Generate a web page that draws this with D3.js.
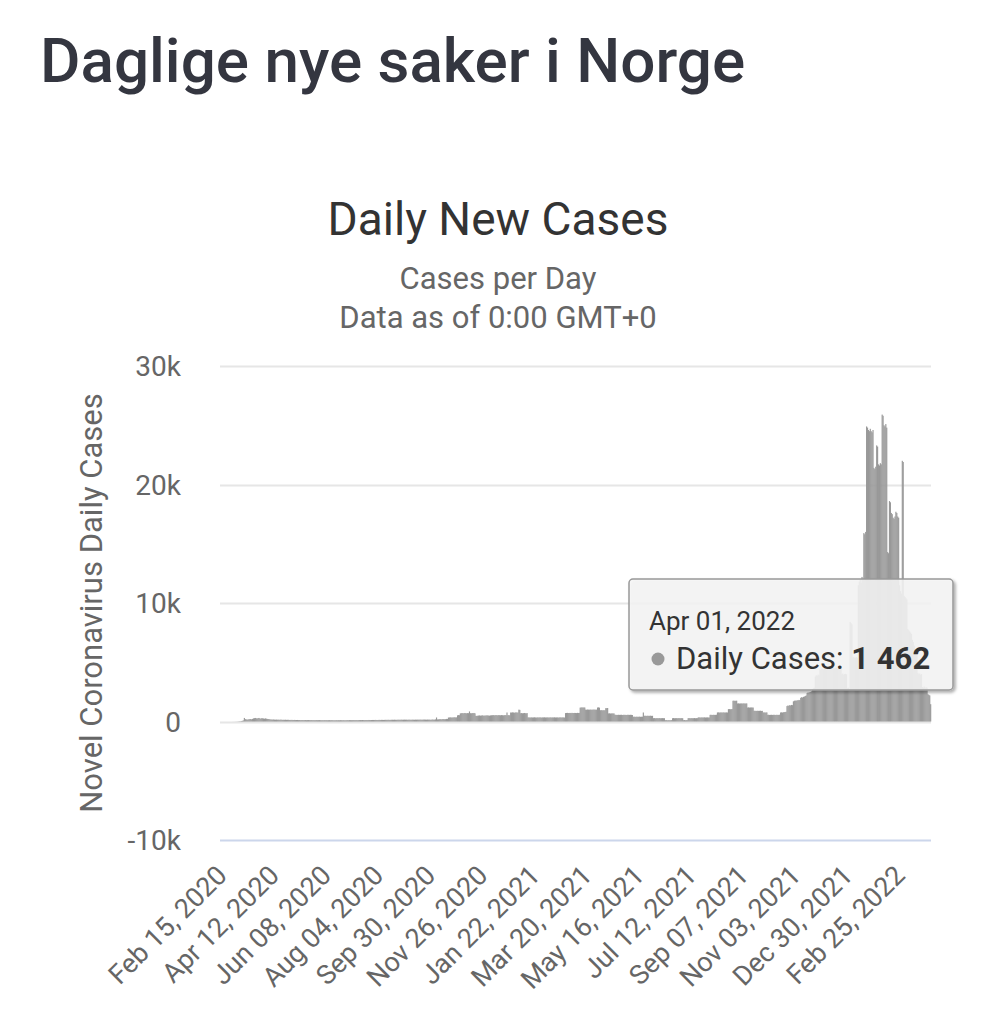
<!DOCTYPE html>
<meta charset="utf-8">
<style>
body { margin: 0; background: #fff; }
svg { font-family: Roboto, "Noto Sans", sans-serif; }
.ylab { fill: #666; font-size: 28px; text-anchor: end; }
.xlab { fill: #666; font-size: 27px; text-anchor: end; }
</style>
<svg width="996" height="1024"></svg>
<script src="https://d3js.org/d3.v7.min.js"></script>
<script>
// first day of the series, the x categories run one per day from here
var startDay = new Date(2020, 1, 15);

// daily new cases, Feb 15 2020 .. Apr 01 2022
var cases = [
  0,0,0,0,0,0,0,0,0,0,0,
  1,0,2,3,2,6,5,8,12,20,25,30,45,60,90,
  300,
  200,180,160,170,190,200,210,180,220,
  260,280,300,270,250,290,300,260,240,280,270,250,230,260,240,220,210,200,180,
  // Apr - Sep 2020
  170,165,160,170,155,150,160,
  150,155,145,150,160,145,140,
  145,140,150,135,140,145,130,
  135,130,140,125,130,135,120,
  125,130,120,125,115,120,125,
  120,115,120,125,110,115,120,
  115,110,120,115,110,115,110,
  110,115,105,110,115,110,105,
  110,105,110,115,105,110,100,
  105,110,100,105,110,100,105,
  100,105,110,100,105,100,110,
  105,100,110,105,100,105,110,
  110,105,115,110,105,110,115,
  115,110,120,115,110,115,120,
  120,115,125,120,115,120,125,
  125,120,130,125,120,125,130,
  130,125,135,130,125,130,135,
  135,130,140,135,130,135,140,
  140,135,145,140,135,140,145,
  145,140,150,145,140,145,150,
  150,145,150,155,145,150,155,
  150,155,145,150,155,150,145,
  150,155,150,145,155,150,155,
  155,150,160,155,150,155,160,
  160,155,150,160,155,160,150,
  // Oct 2020 - Jan 2021
  150,160,170,150,160,180,
  340,
  170,180,190,200,180,190,210,200,190,200,220,210,
  330,340,350,340,330,350,340,360,340,350,
  520,540,530,
  680,700,710,690,700,720,700,690,710,700,850,700,690,710,700,720,690,
  480,470,490,
  500,510,490,500,520,500,490,510,500,520,510,500,490,510,520,
  530,540,520,530,540,530,520,540,530,520,540,530,520,530,540,530,
  760,
  530,540,520,
  760,750,770,760,740,760,770,750,760,
  1000,980,
  700,710,690,700,720,700,690,710,
  // Feb - Mar 2021
  340,350,330,340,345,335,340,
  350,340,330,345,340,335,350,
  340,330,345,340,350,335,340,
  345,340,330,350,340,335,345,
  340,350,335,340,345,330,340,
  350,340,335,345,340,330,
  710,720,730,715,720,725,710,730,720,715,725,720,710,730,720,725,
  1170,1180,1190,1175,1185,1180,
  1000,990,1010,1000,995,1005,1000,990,1010,1000,1005,995,1000,
  1180,1190,1170,
  950,960,940,955,945,950,
  1130,1120,1140,
  680,690,670,680,685,675,680,
  // May - Jul 2021
  560,570,550,560,565,555,560,570,550,560,565,555,560,550,570,560,555,565,560,550,
  400,410,390,400,405,395,400,410,390,400,405,
  760,
  480,490,470,480,485,475,480,490,470,480,
  280,290,270,280,285,275,280,290,270,280,285,275,280,
  110,120,100,110,115,105,110,120,
  280,290,270,280,285,275,280,290,270,280,285,275,
  110,120,100,110,115,
  280,290,270,280,285,275,280,290,270,280,285,
  340,350,330,340,345,335,340,350,330,340,345,335,340,
  // Aug - Oct 2021
  560,570,550,560,565,555,560,570,
  760,770,750,760,765,755,760,770,750,760,765,755,
  1040,1050,1030,1040,1045,
  1750,1760,1740,1750,1755,
  1520,1530,1510,1520,1525,1515,1520,1530,1510,1520,1525,
  1180,1190,1170,1180,1185,1175,1180,
  900,910,890,900,905,895,900,910,890,900,
  760,770,750,760,765,
  560,570,550,560,565,555,560,570,550,560,565,555,560,570,
  // Oct 2021 - Jan 2022
  760,770,750,780,790,800,820,
  1300,1350,1320,1380,1350,1400,1380,
  1700,1750,1770,1740,1800,1770,1820,1800,
  2000,2050,2020,2080,2100,2150,2200,
  2400,2450,2420,2480,2500,2550,
  2750,2800,2850,
  3800,3900,3850,3950,3900,
  4400,4350,4450,4400,4380,4420,4400,4350,4450,4400,4420,
  4500,4550,4450,4500,4520,4480,4500,4550,4450,4500,4520,4480,4500,
  4000,4050,3950,4000,4020,3980,
  2800,2850,2750,
  8400,8300,8200,
  5400,5450,5350,5400,5420,5380,
  11500,11800,12000,11700,12200,12000,
  15900,15800,16000,
  // Jan - Feb 2022 peak
  24900,24800,
  24600,24500,24700,
  24500,24400,24600,
  21400,21300,21500,
  23300,23200,
  21700,21600,21800,21700,
  25900,25800,
  25000,24900,25100,24800,
  14300,14200,
  18600,18500,
  17600,17500,
  17200,17100,17300,
  17700,17600,
  17300,17200,
  11500,11000,10800,
  22000,21900,
  // Mar 2022
  10600,10500,10400,10300,
  7800,7700,7600,7500,7400,
  6900,6700,6400,6100,5800,5600,
  4100,4000,4050,3950,4000,
  2900,2850,2950,2800,2900,2850,
  2300,2250,2200,
  1462
];

var days = d3.timeDay.range(startDay, d3.timeDay.offset(startDay, cases.length));

var tickLabels = ["Feb 15, 2020", "Apr 12, 2020", "Jun 08, 2020", "Aug 04, 2020",
  "Sep 30, 2020", "Nov 26, 2020", "Jan 22, 2021", "Mar 20, 2021", "May 16, 2021",
  "Jul 12, 2021", "Sep 07, 2021", "Nov 03, 2021", "Dec 30, 2021", "Feb 25, 2022"];
var yTicks = [-10000, 0, 10000, 20000, 30000];

var fmtDay = d3.timeFormat("%b %d, %Y");

var svg = d3.select("svg");
var plotLeft = 220, plotRight = 931, plotTop = 366, plotBottom = 840;

var x = d3.scaleBand()
    .domain(days.map(fmtDay))
    .range([plotLeft, plotRight])
    .padding(0);

var y = d3.scaleLinear()
    .domain([-10000, 30000])
    .range([plotBottom, plotTop]);

// page heading and chart titles
svg.append("text")
    .attr("x", 40).attr("y", 82)
    .attr("fill", "#343640")
    .attr("font-size", 62)
    .attr("font-weight", 500)
    .text("Daglige nye saker i Norge");

svg.append("text")
    .attr("x", 498).attr("y", 235)
    .attr("text-anchor", "middle")
    .attr("fill", "#333")
    .attr("font-size", 46)
    .text("Daily New Cases");

svg.append("text")
    .attr("x", 498).attr("y", 289)
    .attr("text-anchor", "middle")
    .attr("fill", "#666")
    .attr("font-size", 31)
    .text("Cases per Day");

svg.append("text")
    .attr("x", 498).attr("y", 328)
    .attr("text-anchor", "middle")
    .attr("fill", "#666")
    .attr("font-size", 31)
    .text("Data as of 0:00 GMT+0");

// grid
svg.append("g")
  .selectAll("line")
  .data(yTicks)
  .enter().append("line")
    .attr("x1", plotLeft).attr("x2", plotRight)
    .attr("y1", d => Math.round(y(d)) + 0.5)
    .attr("y2", d => Math.round(y(d)) + 0.5)
    .attr("stroke", d => d == -10000 ? "#ccd6eb" : "#e6e6e6")
    .attr("stroke-width", 2);

svg.append("g")
  .selectAll("text")
  .data(yTicks)
  .enter().append("text")
    .attr("class", "ylab")
    .attr("x", 181)
    .attr("y", d => y(d) + 10)
    .text(d => d == 0 ? "0" : (d / 1000) + "k");

svg.append("text")
    .attr("transform", "translate(102," + (plotTop + plotBottom) / 2 + ") rotate(-90)")
    .attr("text-anchor", "middle")
    .attr("fill", "#666")
    .attr("font-size", 31)
    .text("Novel Coronavirus Daily Cases");

// bars
var bw = x.bandwidth();
svg.append("g")
  .selectAll("rect")
  .data(cases)
  .enter().append("rect")
    .attr("x", (d, i) => x(fmtDay(days[i])))
    .attr("width", bw + 0.25)
    .attr("y", d => y(d))
    .attr("height", d => y(0) - y(d))
    .attr("fill", "#999");

// x labels
svg.append("g")
  .selectAll("text")
  .data(tickLabels)
  .enter().append("text")
    .attr("class", "xlab")
    .attr("transform", d => {
      var tx = x(d) + bw / 2 + 8;
      return "translate(" + tx + ",877) rotate(-45)";
    })
    .text(d => d);

// tooltip for the last point
var defs = svg.append("defs");
var f = defs.append("filter").attr("id", "shadow")
    .attr("x", "-10%").attr("y", "-10%").attr("width", "130%").attr("height", "140%");
f.append("feDropShadow")
    .attr("dx", 2).attr("dy", 2).attr("stdDeviation", 1.5)
    .attr("flood-color", "#000").attr("flood-opacity", 0.35);

var last = cases.length - 1;
var tip = svg.append("g").attr("transform", "translate(629,579)");
tip.append("rect")
    .attr("width", 324).attr("height", 111)
    .attr("rx", 4)
    .attr("fill", "rgba(247,247,247,0.85)")
    .attr("stroke", "#999")
    .attr("stroke-width", 1.5)
    .attr("filter", "url(#shadow)");
tip.append("text")
    .attr("x", 20).attr("y", 51)
    .attr("fill", "#333")
    .attr("font-size", 26)
    .text(fmtDay(days[last]));
tip.append("circle")
    .attr("cx", 29).attr("cy", 80)
    .attr("r", 6.5)
    .attr("fill", "#999");
var line2 = tip.append("text")
    .attr("x", 47).attr("y", 90)
    .attr("fill", "#333")
    .attr("font-size", 31);
line2.append("tspan").text("Daily Cases: ");
line2.append("tspan")
    .attr("font-weight", 700)
    .text(d3.format(",")(cases[last]).replace(/,/g, " "));
</script>
